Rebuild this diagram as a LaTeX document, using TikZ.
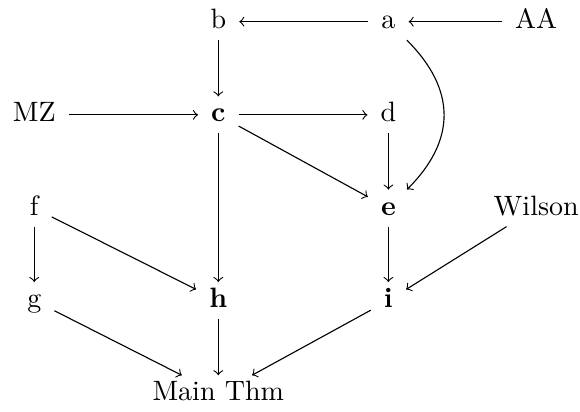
\documentclass[tikz,border=0pt]{standalone}
\begin{document}
\begin{tikzpicture}[
    obj/.style={anchor=base, text height=6.9pt, text depth=1.9pt,
        inner xsep=4.5pt, inner ysep=2pt},
    imp/.style={->}
]
    \useasboundingbox (0,-0.14) rectangle (7.28,5.03);

    % Row 1
    \node[obj] (b) at (2.74,4.67) {b};
    \node[obj] (a) at (4.875,4.67) {a};
    \node[obj] (AA) at (6.73,4.67) {AA};
    % Row 2
    \node[obj] (MZ) at (0.43,3.50) {MZ};
    \node[obj] (c) at (2.74,3.50) {\textbf{c}};
    \node[obj] (d) at (4.875,3.50) {d};
    % Row 3
    \node[obj] (f) at (0.43,2.33) {f};
    \node[obj] (e) at (4.875,2.33) {\textbf{e}};
    \node[obj] (W) at (6.73,2.33) {Wilson};
    % Row 4
    \node[obj] (g) at (0.43,1.17) {g};
    \node[obj] (h) at (2.74,1.17) {\textbf{h}};
    \node[obj] (i) at (4.875,1.17) {\textbf{i}};
    % Main theorem
    \node[obj] (main) at (2.74,0) {Main Thm};

    % Implications
    \draw[imp] (AA) -- (a);
    \draw[imp] (a) -- (b);
    \draw[imp] (b) -- (c);
    \draw[imp] (MZ) -- (c);
    \draw[imp] (c) -- (d);
    \draw[imp] (c) -- (e);
    \draw[imp] (d) -- (e);
    \draw[imp] (a) to[out=-45, in=45, looseness=1.2] (e);
    \draw[imp] (c) -- (h);
    \draw[imp] (f) -- (g);
    \draw[imp] (f) -- (h);
    \draw[imp] (e) -- (i);
    \draw[imp] (W) -- (i);
    \draw[imp] (g) -- (main);
    \draw[imp] (h) -- (main);
    \draw[imp] (i) -- (main);
\end{tikzpicture}
\end{document}
